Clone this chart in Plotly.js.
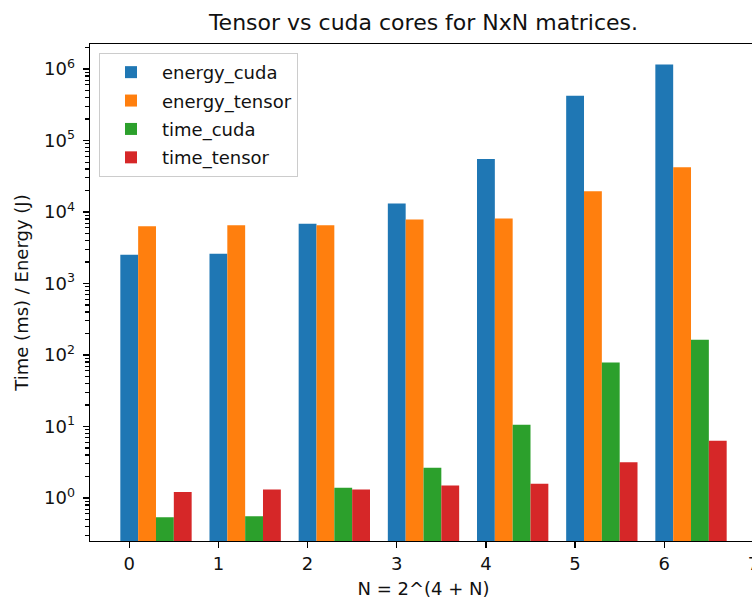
<!DOCTYPE html>
<html>
<head>
<meta charset="utf-8">
<script src="https://cdn.plot.ly/plotly-3.0.1.min.js"></script>
<style>
html, body { margin: 0; padding: 0; overflow: hidden; background: #fff; }
#chart { width: 770px; height: 599px; }
</style>
</head>
<body>
<div id="chart"></div>
<script>
// Data
const xCategories = [0, 1, 2, 3, 4, 5, 6];
const seriesNames = ["energy_cuda", "energy_tensor", "time_cuda", "time_tensor"];
const energyCuda   = [2530, 2610, 6860, 13200, 55100, 424000, 1160000];
const energyTensor = [6300, 6520, 6520, 7890, 8150, 19500, 42200];
const timeCuda     = [0.537, 0.555, 1.39, 2.65, 10.6, 78.9, 164];
const timeTensor   = [1.21, 1.32, 1.32, 1.50, 1.58, 3.16, 6.33];
const xTickVals = [0, 1, 2, 3, 4, 5, 6, 7];
const yTickVals = [1, 10, 100, 1000, 10000, 100000, 1000000];
const yTickText = ["10<sup>0</sup>", "10<sup>1</sup>", "10<sup>2</sup>", "10<sup>3</sup>", "10<sup>4</sup>", "10<sup>5</sup>", "10<sup>6</sup>"];
const titleText = "Tensor vs cuda cores for NxN matrices.";
const xLabel = "N = 2^(4 + N)";
const yLabel = "Time (ms) / Energy (J)";

const seriesValues = [energyCuda, energyTensor, timeCuda, timeTensor];
const colors = ["#1f77b4", "#ff7f0e", "#2ca02c", "#d62728"];
const barWidth = 0.2;

const traces = seriesValues.map((vals, i) => ({
  type: "bar",
  name: seriesNames[i],
  x: xCategories,
  y: vals,
  width: barWidth,
  offset: -barWidth / 2 + i * barWidth,
  marker: { color: colors[i], line: { width: 0 } },
  legendgroup: "g" + i,
  hoverinfo: "skip"
}));

// minor log ticks
const minorVals = [];
for (let e = -1; e <= 6; e++) {
  for (let m = 2; m <= 9; m++) minorVals.push(m * Math.pow(10, e));
}

const font = { family: "DejaVu Sans, sans-serif", size: 18, color: "#111" };

const layout = {
  width: 770,
  height: 599,
  margin: { l: 90, r: 13, t: 44, b: 58, pad: 0 },
  paper_bgcolor: "#fff",
  plot_bgcolor: "#fff",
  barmode: "overlay",
  font: font,
  title: {
    text: titleText,
    font: { family: "DejaVu Sans, sans-serif", size: 22, color: "#111" },
    xref: "paper", x: 0.5, xanchor: "center",
    yref: "paper", y: 1, yanchor: "bottom",
    pad: { b: 14 }
  },
  xaxis: {
    range: [-0.44, 7.04],
    tickmode: "array",
    tickvals: xTickVals,
    ticks: "outside",
    ticklen: 6,
    tickwidth: 1.4,
    tickcolor: "#000",
    showline: true,
    linecolor: "#000",
    linewidth: 1.4,
    mirror: true,
    showgrid: false,
    zeroline: false,
    tickfont: font,
    title: { text: xLabel, font: font, standoff: 12 },
    automargin: false
  },
  yaxis: {
    type: "log",
    range: [-0.601, 6.35],
    tickmode: "array",
    tickvals: yTickVals,
    ticktext: yTickText,
    ticks: "outside",
    ticklen: 6,
    tickwidth: 1.4,
    tickcolor: "#000",
    ticklabelstandoff: 4,
    minor: { tickvals: minorVals, ticks: "outside", ticklen: 3.5, tickwidth: 1.1, tickcolor: "#000", showgrid: false },
    showline: true,
    linecolor: "#000",
    linewidth: 1.4,
    mirror: true,
    showgrid: false,
    zeroline: false,
    tickfont: font,
    title: { text: yLabel, font: font, standoff: 10 },
    automargin: false
  },
  showlegend: true,
  legend: {
    x: 0.0135, xanchor: "left",
    y: 0.982, yanchor: "top",
    bgcolor: "rgba(255,255,255,0.8)",
    bordercolor: "#cccccc",
    borderwidth: 1,
    font: font,
    traceorder: "grouped",
    tracegroupgap: 2,
    itemwidth: 52
  }
};

Plotly.newPlot("chart", traces, layout, { staticPlot: true, displayModeBar: false });
</script>
</body>
</html>
